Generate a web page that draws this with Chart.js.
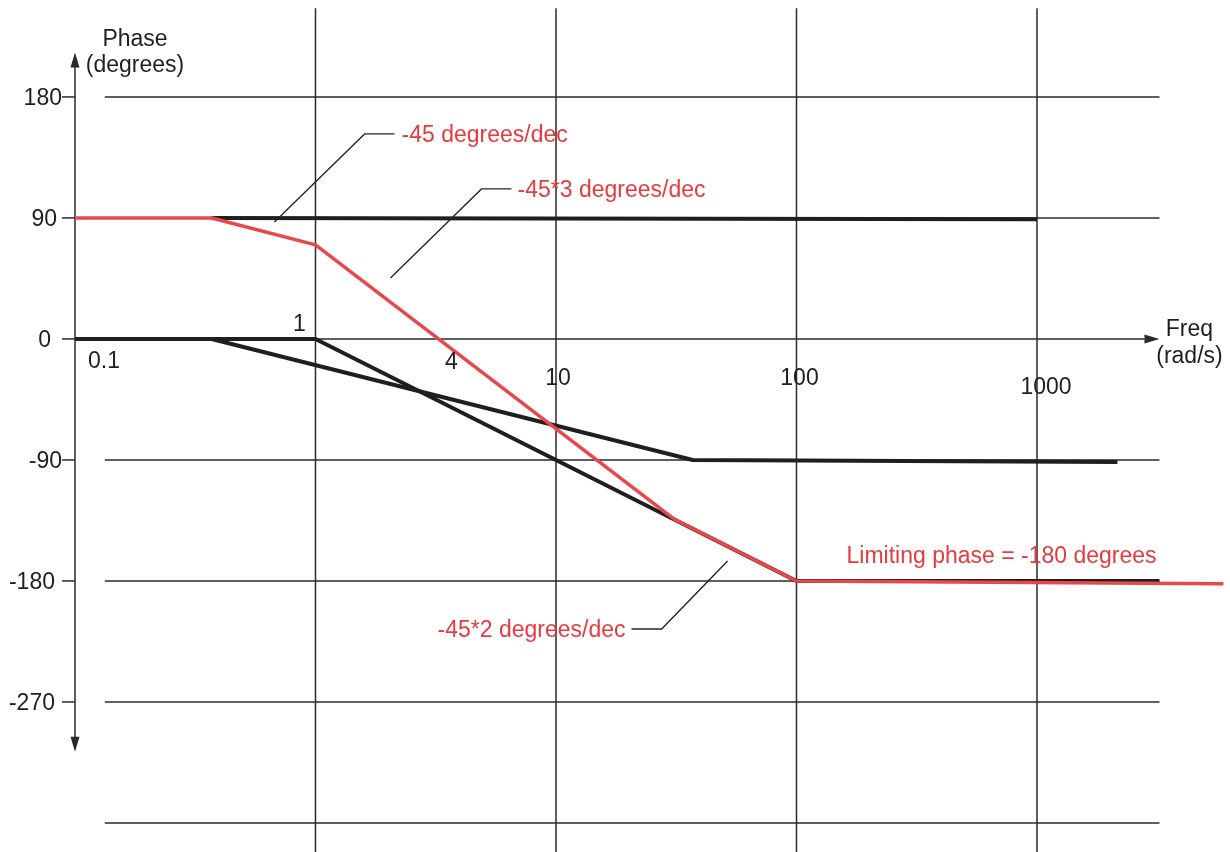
<!DOCTYPE html>
<html>
<head>
<meta charset="utf-8">
<title>Phase plot</title>
<script src="https://cdn.jsdelivr.net/npm/chart.js@4.4.1/dist/chart.umd.min.js"></script>
<style>
  html, body { margin: 0; padding: 0; background: #fff; }
  #wrap { width: 1230px; height: 852px; position: relative; }
</style>
</head>
<body>
<div id="wrap"><canvas id="phaseChart"></canvas></div>
<script>
// Asymptotic phase lines (freq in rad/s, phase in degrees)
const constFreq = [0.37, 1000];
const constPhase = [90, 89];

const poleAFreq = [0.1, 0.37, 37, 2160];
const poleAPhase = [0, 0, -90, -91.5];

const poleBFreq = [0.1, 1, 100, 3230];
const poleBPhase = [0, 0, -180, -180];

const totalFreq = [0.1, 0.37, 1, 31, 100, 5960];
const totalPhase = [90, 90, 70, -134, -180, -182];

// Axis ticks and grid
const yTickValues = [180, 90, 0, -90, -180, -270];
const yTickLabels = ['180', '90', '0', '-90', '-180', '-270'];
const xTickValues = [0.1, 1, 4, 10, 100, 1000];
const xTickLabels = ['0.1', '1', '4', '10', '100', '1000'];
const gridPhase = [180, 90, -90, -180, -270, -360];
const gridFreq = [1, 10, 100, 1000];

// layout: label offsets in px (hand placed in the sketch)
const xLabelOffsets = [[29, 29], [-16, -8], [-9, 30], [2, 46], [3, 46], [9, 55]];
const yLabelShift = [0, -5, -11, 0, -7, -7];

const BLACK = '#1f1f1f';
const RED = '#e8474b';
const RED_TEXT = '#e63a3f';
const FONT = '23px "Liberation Sans", Arial, sans-serif';

// annotations, anchored in data space
const notes = [
    { text: '-45 degrees/dec', at: [2.28, 146.6], align: 'left',
      leader: [[0.675, 87], [1.6, 152.5], [2.13, 152.5]] },
    { text: '-45*3 degrees/dec', at: [6.92, 105.6], align: 'left',
      leader: [[2.05, 45.4], [4.9, 111.6], [6.53, 111.6]] },
    { text: '-45*2 degrees/dec', at: [19.45, -221.5], align: 'right',
      leader: [[51.7, -165.1], [27.5, -215.7], [20.6, -215.7]] },
    { text: 'Limiting phase = -180 degrees', at: [161.4, -166.6], align: 'left', leader: null }
];

function toPoints(xs, ys) {
    return xs.map((x, i) => ({ x: x, y: ys[i] }));
}

function seg(ctx, x1, y1, x2, y2) {
    ctx.beginPath();
    ctx.moveTo(x1, y1);
    ctx.lineTo(x2, y2);
    ctx.stroke();
}

function arrowHead(ctx, tx, ty, dx, dy) {
    // dx, dy: unit direction of the arrow
    const len = 15, half = 4.5;
    const bx = tx - dx * len, by = ty - dy * len;
    ctx.beginPath();
    ctx.moveTo(tx, ty);
    ctx.lineTo(bx - dy * half, by + dx * half);
    ctx.lineTo(bx + dy * half, by - dx * half);
    ctx.closePath();
    ctx.fill();
}

const sketchPlugin = {
    id: 'sketch',
    beforeDatasetsDraw(chart) {
        const ctx = chart.ctx;
        const xs = chart.scales.x, ys = chart.scales.y;
        const X = v => xs.getPixelForValue(v);
        const Y = v => ys.getPixelForValue(v);
        ctx.save();
        ctx.strokeStyle = '#2a2a2a';
        ctx.fillStyle = '#2a2a2a';
        ctx.lineWidth = 1.5;

        // grid
        gridPhase.forEach(p => seg(ctx, X(0.133), Y(p), X(3230), Y(p)));
        gridFreq.forEach(f => seg(ctx, X(f), Y(246), X(f), Y(ys.min)));

        // phase axis with arrows both ends
        const ax = X(0.1);
        seg(ctx, ax, Y(206), ax, Y(-301));
        arrowHead(ctx, ax, Y(213), 0, -1);
        arrowHead(ctx, ax, Y(-307), 0, 1);
        yTickValues.forEach(v => seg(ctx, ax - 13, Y(v), ax, Y(v)));

        // frequency axis
        seg(ctx, ax, Y(0), X(2800), Y(0));
        arrowHead(ctx, X(3230), Y(0), 1, 0);
        ctx.restore();
    },
    afterDatasetsDraw(chart) {
        const ctx = chart.ctx;
        const xs = chart.scales.x, ys = chart.scales.y;
        const X = v => xs.getPixelForValue(v);
        const Y = v => ys.getPixelForValue(v);
        ctx.save();
        ctx.font = FONT;
        ctx.fillStyle = BLACK;
        ctx.textBaseline = 'alphabetic';

        // y tick labels
        ctx.textAlign = 'right';
        yTickValues.forEach((v, i) => ctx.fillText(yTickLabels[i], X(0.1) - 13 + yLabelShift[i], Y(v) + 8));

        // x tick labels
        ctx.textAlign = 'center';
        xTickValues.forEach((v, i) => {
            const off = xLabelOffsets[i];
            ctx.fillText(xTickLabels[i], X(v) + off[0], Y(0) + off[1]);
        });

        // axis titles
        ctx.fillText('Phase', X(0.1776), Y(217.9));
        ctx.fillText('(degrees)', X(0.1776), Y(198.6));
        ctx.fillText('Freq', X(4305), Y(2.2));
        ctx.fillText('(rad/s)', X(4305), Y(-17.9));

        // annotations
        ctx.strokeStyle = '#262626';
        ctx.lineWidth = 1.4;
        notes.forEach(n => {
            if (n.leader) {
                ctx.beginPath();
                n.leader.forEach((p, i) => {
                    if (i === 0) ctx.moveTo(X(p[0]), Y(p[1]));
                    else ctx.lineTo(X(p[0]), Y(p[1]));
                });
                ctx.stroke();
            }
            ctx.fillStyle = RED_TEXT;
            ctx.textAlign = n.align;
            ctx.fillText(n.text, X(n.at[0]), Y(n.at[1]));
        });
        ctx.restore();
    }
};

const ctx = document.getElementById('phaseChart').getContext('2d');

new Chart(ctx, {
    type: 'line',
    data: {
        datasets: [
            {
                label: 'Total phase',
                data: toPoints(totalFreq, totalPhase),
                borderColor: RED,
                borderWidth: 3.5
            },
            {
                label: 'Constant',
                data: toPoints(constFreq, constPhase),
                borderColor: BLACK,
                borderWidth: 4
            },
            {
                label: 'Pole 0.37',
                data: toPoints(poleAFreq, poleAPhase),
                borderColor: BLACK,
                borderWidth: 4
            },
            {
                label: 'Double pole 1',
                data: toPoints(poleBFreq, poleBPhase),
                borderColor: BLACK,
                borderWidth: 4
            }
        ]
    },
    options: {
        responsive: true,
        maintainAspectRatio: false,
        animation: false,
        layout: { padding: 0 },
        elements: {
            point: { radius: 0, hoverRadius: 0 },
            line: { tension: 0, fill: false, borderJoinStyle: 'round', borderCapStyle: 'butt' }
        },
        plugins: {
            legend: { display: false },
            tooltip: { enabled: false }
        },
        scales: {
            x: {
                type: 'logarithmic',
                display: false,
                bounds: 'data',
                min: 0.04877,
                max: 6346
            },
            y: {
                type: 'linear',
                display: false,
                bounds: 'data',
                min: -381.6,
                max: 252.1
            }
        }
    },
    plugins: [sketchPlugin]
});
</script>
</body>
</html>
